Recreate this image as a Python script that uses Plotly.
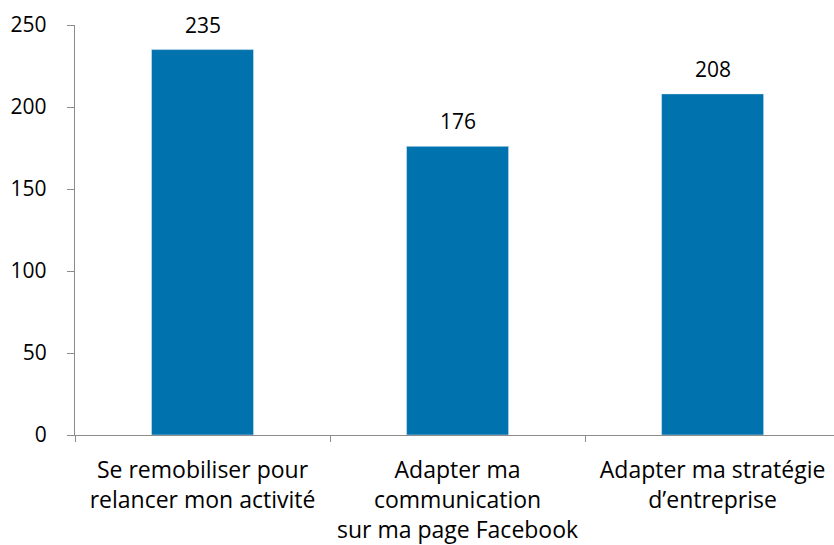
import plotly.graph_objects as go

# categories and counts
categories = [
    "Se remobiliser pour<br>relancer mon activité",
    "Adapter ma<br>communication<br>sur ma page Facebook",
    "Adapter ma stratégie<br>d’entreprise",
]
counts = [235, 176, 208]
y_ticks = [0, 50, 100, 150, 200, 250]

BAR_COLOR = "#0072AE"
AXIS_COLOR = "#8C8C8C"
FONT = "Open Sans, sans-serif"
SIZE = 21

fig = go.Figure(
    go.Bar(
        x=categories,
        y=counts,
        marker_color=BAR_COLOR,
        width=0.4,
        hoverinfo="x+y",
    )
)

# value labels above bars
for cat, val in zip(categories, counts):
    fig.add_annotation(
        x=cat, y=val, text=str(val), showarrow=False,
        yanchor="bottom", yshift=9,
        font=dict(size=SIZE, color="#000000", family=FONT),
    )

fig.update_layout(
    width=834,
    height=545,
    margin=dict(l=75, r=0, t=25, b=110),
    plot_bgcolor="white",
    paper_bgcolor="white",
    font=dict(family=FONT, size=SIZE, color="#000000"),
    showlegend=False,
)

fig.update_xaxes(
    range=[-0.5, 2.476],
    showline=True,
    linecolor=AXIS_COLOR,
    linewidth=1.3,
    ticks="outside",
    tickson="boundaries",
    ticklen=6,
    tickcolor=AXIS_COLOR,
    tickfont=dict(size=23),
    ticklabelstandoff=14,
    showgrid=False,
)

fig.update_yaxes(
    range=[0, 250],
    tickvals=y_ticks,
    showline=True,
    linecolor=AXIS_COLOR,
    linewidth=1.3,
    ticks="outside",
    ticklen=7,
    tickcolor=AXIS_COLOR,
    showgrid=False,
    zeroline=False,
    ticklabelstandoff=16,
)

# drop the default body margin so the figure sits at the window corner
fig.write_html(
    "out.html",
    config={"displayModeBar": False},
    post_script="document.body.style.margin='0';",
)
